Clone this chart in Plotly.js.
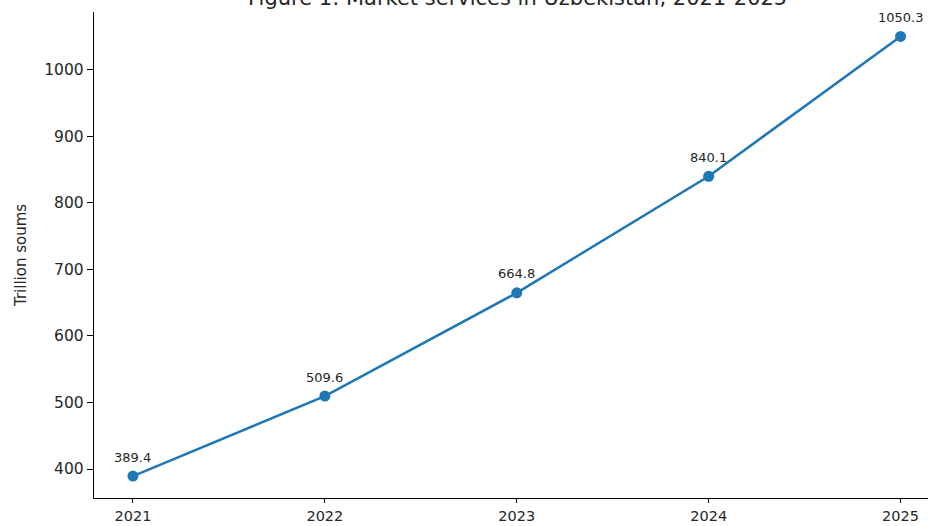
<!DOCTYPE html>
<html>
<head>
<meta charset="utf-8">
<script src="https://cdn.plot.ly/plotly-3.0.1.min.js"></script>
<style>html,body{margin:0;padding:0;background:#fff;}#chart{width:928px;height:526px;}</style>
</head>
<body>
<div id="chart"></div>
<script>
const years = [2021, 2022, 2023, 2024, 2025];
const values = [389.4, 509.6, 664.8, 840.1, 1050.3];
const valueLabels = ["389.4", "509.6", "664.8", "840.1", "1050.3"];
const yTicks = [400, 500, 600, 700, 800, 900, 1000];
const titleText = "Figure 1: Market services in Uzbekistan, 2021-2025";
const yTitle = "Trillion soums";

const textColor = "#262626";
const font = "DejaVu Sans, sans-serif";

const trace = {
  x: years,
  y: values,
  type: "scatter",
  mode: "lines+markers",
  line: {color: "#1f77b4", width: 2.5},
  marker: {color: "#1f77b4", size: 11},
  hoverinfo: "skip"
};

const annotations = years.map((yr, i) => ({
  x: yr, y: values[i], xref: "x", yref: "y",
  text: valueLabels[i], showarrow: false,
  yanchor: "middle", yshift: 19,
  font: {family: font, size: 13, color: textColor}
}));
annotations.push({
  xref: "paper", yref: "paper", x: 0.5075, y: 1, yanchor: "middle", yshift: 14,
  text: titleText, showarrow: false,
  font: {family: font, size: 21, color: textColor}
});

const layout = {
  width: 928, height: 526,
  margin: {l: 94, r: 0, t: 12, b: 28, pad: 0},
  paper_bgcolor: "#fff", plot_bgcolor: "#fff",
  showlegend: false,
  font: {family: font, color: textColor},
  xaxis: {
    range: [2020.797, 2025.143],
    tickvals: years, ticktext: years.map(String),
    showgrid: false, zeroline: false,
    showline: true, linecolor: "#000", linewidth: 1.2,
    ticks: "outside", ticklen: 4, tickwidth: 1, tickcolor: "#000",
    tickfont: {family: font, size: 14.5, color: textColor}
  },
  yaxis: {
    range: [356.4, 1087],
    tickvals: yTicks,
    showgrid: false, zeroline: false,
    showline: true, linecolor: "#000", linewidth: 1.2,
    ticks: "outside", ticklen: 6, tickwidth: 1, tickcolor: "#000",
    tickfont: {family: font, size: 15.5, color: textColor},
    title: {text: yTitle, standoff: 14, font: {family: font, size: 15, color: textColor}}
  },
  annotations: annotations
};

Plotly.newPlot("chart", [trace], layout, {displayModeBar: false, staticPlot: true});
</script>
</body>
</html>
